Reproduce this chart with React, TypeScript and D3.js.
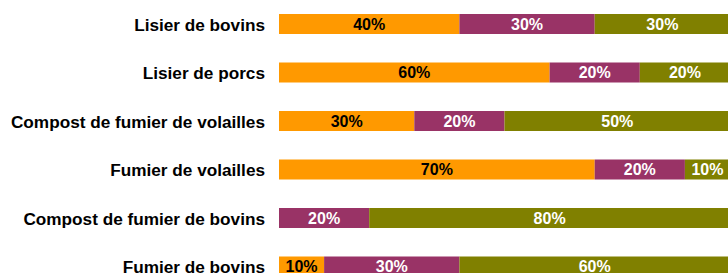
import React from 'react'
import * as d3 from 'd3'

const categories = [
  'Lisier de bovins',
  'Lisier de porcs',
  'Compost de fumier de volailles',
  'Fumier de volailles',
  'Compost de fumier de bovins',
  'Fumier de bovins',
]
const seriesKeys = ['a', 'b', 'c']
const seriesA = [40, 60, 30, 70, 0, 10]
const seriesB = [30, 20, 20, 20, 20, 30]
const seriesC = [30, 20, 50, 10, 80, 60]

const COLORS = ['#FF9900', '#993366', '#808000']
const TEXT_COLORS = ['#000000', '#ffffff', '#ffffff']

const WIDTH = 728
const HEIGHT = 273

export default function App() {
  const rows = categories.map((name, i) => ({
    name,
    a: seriesA[i],
    b: seriesB[i],
    c: seriesC[i],
  }))
  const stacked = d3.stack<(typeof rows)[number]>().keys(seriesKeys)(rows)

  const x = d3.scaleLinear().domain([0, 100]).range([279, 730])
  const y = d3.scalePoint<string>().domain(categories).range([24, 266.5])
  const barH = 20

  return (
    <div style={{ position: 'absolute', left: 0, top: 0 }}>
      <svg
        width={WIDTH}
        height={HEIGHT}
        style={{ display: 'block', fontFamily: '"Liberation Sans", Arial, sans-serif', fontWeight: 'bold' }}
      >
        {categories.map((c) => (
          <text
            key={c}
            x={265}
            y={y(c)!}
            dy="0.38em"
            textAnchor="end"
            fontSize={17.2}
            fill="#000"
          >
            {c}
          </text>
        ))}
        {stacked.map((s, si) => (
          <g key={s.key}>
            {s.map((d, i) => {
              const v = d[1] - d[0]
              if (v <= 0) return null
              const cy = y(categories[i])!
              const x0 = x(d[0])
              const x1 = x(d[1])
              return (
                <g key={i}>
                  <rect x={x0} y={cy - barH / 2} width={x1 - x0} height={barH} fill={COLORS[si]} />
                  <text
                    x={(x0 + x1) / 2}
                    y={cy}
                    dy="0.37em"
                    textAnchor="middle"
                    fontSize={16}
                    fill={TEXT_COLORS[si]}
                  >
                    {v}%
                  </text>
                </g>
              )
            })}
          </g>
        ))}
      </svg>
    </div>
  )
}
